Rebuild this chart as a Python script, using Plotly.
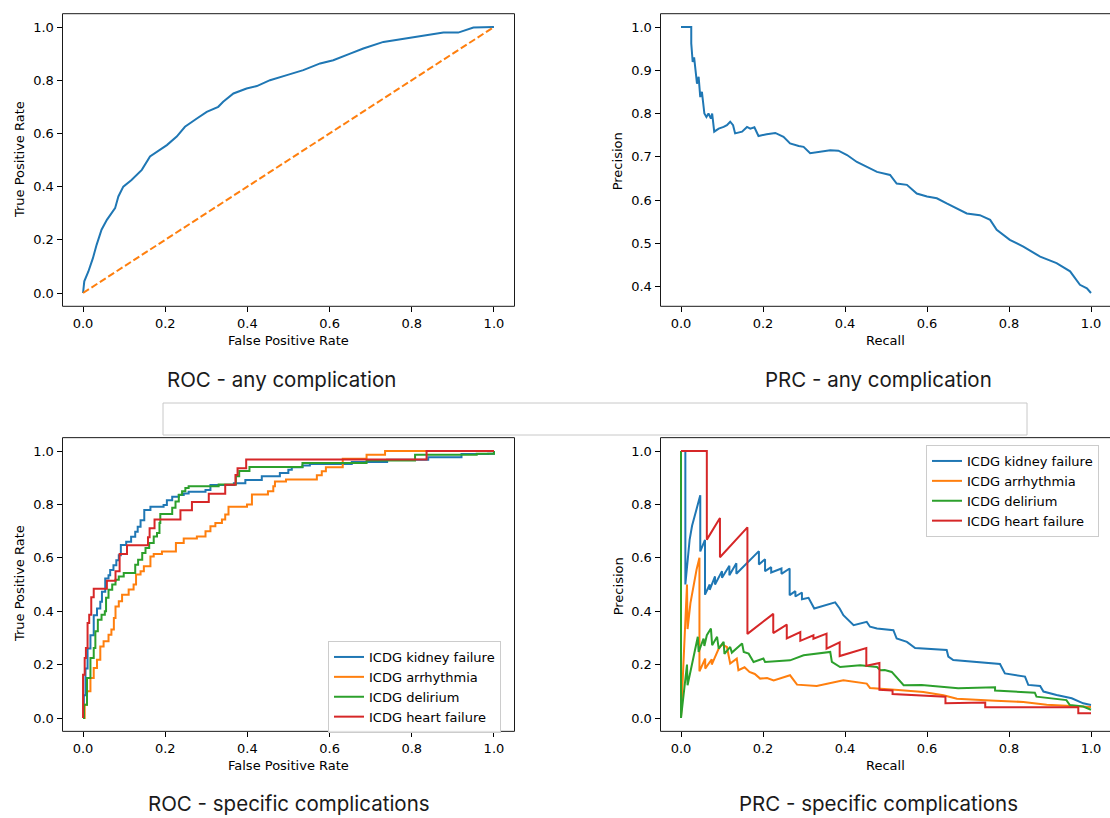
import plotly.graph_objects as go

W, H = 1110, 818

# ---------------- data ----------------
roc_any_fpr = [0, 0.003, 0.013, 0.024, 0.033, 0.045, 0.058, 0.078, 0.086, 0.098, 0.118, 0.143, 0.163, 0.187,
               0.204, 0.228, 0.248, 0.277, 0.301, 0.329, 0.341, 0.366, 0.398, 0.423, 0.455, 0.496, 0.536,
               0.577, 0.609, 0.650, 0.682, 0.731, 0.779, 0.836, 0.877, 0.913, 0.950, 1.0]
roc_any_tpr = [0, 0.044, 0.081, 0.131, 0.181, 0.238, 0.275, 0.319, 0.363, 0.40, 0.425, 0.463, 0.513, 0.538,
               0.556, 0.588, 0.625, 0.656, 0.681, 0.70, 0.719, 0.75, 0.769, 0.778, 0.80, 0.819, 0.838,
               0.863, 0.875, 0.90, 0.919, 0.944, 0.956, 0.969, 0.979, 0.979, 0.998, 1.0]
chance_x = [0, 1]
chance_y = [0, 1]

prc_any_recall = [0, 0.025, 0.025, 0.0285, 0.032, 0.035, 0.039, 0.043, 0.047, 0.051, 0.057, 0.062, 0.067,
                  0.073, 0.076, 0.081, 0.092, 0.104, 0.112, 0.120, 0.127, 0.132, 0.149, 0.161, 0.169, 0.179,
                  0.189, 0.209, 0.230, 0.250, 0.266, 0.287, 0.299, 0.315, 0.339, 0.364, 0.384, 0.405, 0.429,
                  0.453, 0.478, 0.510, 0.526, 0.551, 0.575, 0.600, 0.624, 0.648, 0.673, 0.697, 0.729, 0.754,
                  0.770, 0.802, 0.835, 0.876, 0.916, 0.949, 0.973, 0.990, 1.0]
prc_any_precision = [1.0, 1.0, 0.962, 0.919, 0.93, 0.90, 0.869, 0.885, 0.838, 0.85, 0.80, 0.792, 0.80,
                     0.788, 0.80, 0.758, 0.765, 0.769, 0.773, 0.781, 0.773, 0.754, 0.758, 0.769, 0.765, 0.768,
                     0.748, 0.752, 0.755, 0.746, 0.731, 0.725, 0.723, 0.708, 0.712, 0.715, 0.714, 0.704, 0.688,
                     0.677, 0.665, 0.658, 0.638, 0.635, 0.615, 0.608, 0.604, 0.592, 0.581, 0.569, 0.565, 0.554,
                     0.531, 0.508, 0.492, 0.469, 0.454, 0.435, 0.404, 0.396, 0.385]

complications = ["ICDG kidney failure", "ICDG arrhythmia", "ICDG delirium", "ICDG heart failure"]
colors = ["#1f77b4", "#ff7f0e", "#2ca02c", "#d62728"]

# ROC specific (staircase corner points)
roc_kidney_fpr = [0, 0.002, 0.006, 0.011, 0.018, 0.026, 0.034, 0.042, 0.046, 0.054, 0.062, 0.066, 0.074, 0.081,
                  0.087, 0.092, 0.105, 0.117, 0.127, 0.133, 0.14, 0.149, 0.164, 0.196, 0.204, 0.217, 0.233,
                  0.245, 0.257, 0.298, 0.31, 0.367, 0.395, 0.435, 0.479, 0.4996, 0.508, 0.534, 0.552, 0.654,
                  0.74, 0.84, 0.921, 0.986, 1.0]
roc_kidney_tpr = [0, 0.085, 0.185, 0.26, 0.31, 0.385, 0.41, 0.435, 0.4725, 0.5225, 0.535, 0.554, 0.5725, 0.591,
                  0.61, 0.6475, 0.66, 0.679, 0.6975, 0.716, 0.741, 0.779, 0.791, 0.7975, 0.816, 0.829, 0.835,
                  0.841, 0.8475, 0.854, 0.8725, 0.879, 0.891, 0.905, 0.9176, 0.93, 0.939, 0.946, 0.951, 0.959,
                  0.967, 0.977, 0.989, 0.99, 1.0]
roc_arrhythmia_fpr = [0, 0.004, 0.0097, 0.018, 0.026, 0.034, 0.042, 0.05, 0.062, 0.069, 0.075, 0.079, 0.087,
                      0.095, 0.111, 0.123, 0.129, 0.14, 0.148, 0.164, 0.172, 0.192, 0.226, 0.245, 0.277, 0.298,
                      0.31, 0.322, 0.338, 0.346, 0.354, 0.399, 0.411, 0.45, 0.463, 0.467, 0.494, 0.569, 0.581,
                      0.591, 0.632, 0.69, 0.735, 1.0]
roc_arrhythmia_tpr = [0, 0.05, 0.1, 0.15, 0.187, 0.218, 0.268, 0.287, 0.312, 0.331, 0.375, 0.418, 0.437,
                      0.462, 0.481, 0.50, 0.537, 0.55, 0.568, 0.605, 0.614, 0.624, 0.655, 0.672, 0.68, 0.699,
                      0.718, 0.73, 0.743, 0.762, 0.791, 0.8, 0.8375, 0.849, 0.868, 0.886, 0.893, 0.909, 0.924,
                      0.939, 0.971, 0.986, 1.0, 1.0]
roc_delirium_fpr = [0, 0.0024, 0.0097, 0.018, 0.026, 0.03, 0.036, 0.045, 0.053, 0.056, 0.062, 0.071, 0.079,
                    0.087, 0.099, 0.127, 0.134, 0.144, 0.152, 0.161, 0.172, 0.18, 0.186, 0.188, 0.217, 0.225,
                    0.233, 0.241, 0.249, 0.257, 0.33, 0.372, 0.38, 0.405, 0.534, 0.69, 0.808, 0.958, 1.0]
roc_delirium_tpr = [0, 0.05, 0.15, 0.225, 0.262, 0.325, 0.368, 0.387, 0.40, 0.45, 0.48, 0.50, 0.518,
                    0.53, 0.543, 0.574, 0.593, 0.618, 0.637, 0.655, 0.68, 0.693, 0.73, 0.764, 0.787, 0.811,
                    0.836, 0.849, 0.861, 0.868, 0.875, 0.905, 0.925, 0.94, 0.955, 0.964, 0.986, 0.99, 1.0]
roc_heart_fpr = [0, 0, 0.004, 0.007, 0.011, 0.015, 0.02, 0.026, 0.058, 0.079, 0.089, 0.107, 0.158, 0.162,
                 0.174, 0.237, 0.265, 0.306, 0.346, 0.371, 0.376, 0.397, 0.836, 1.0]
roc_heart_tpr = [0, 0.162, 0.225, 0.262, 0.356, 0.387, 0.452, 0.484, 0.514, 0.55, 0.614, 0.647, 0.677, 0.711,
                 0.743, 0.778, 0.809, 0.84, 0.874, 0.91, 0.935, 0.968, 1.0, 1.0]

# PRC specific
prc_kidney_recall = [0, 0.0106, 0.0106, 0.016, 0.021, 0.027, 0.032, 0.037, 0.042, 0.047, 0.047, 0.053, 0.0585,
                     0.0585, 0.07, 0.07, 0.083, 0.083, 0.1, 0.1, 0.118, 0.118, 0.135, 0.135, 0.19, 0.19, 0.205,
                     0.205, 0.22, 0.22, 0.245, 0.245, 0.265, 0.265, 0.279, 0.279, 0.295, 0.295, 0.311, 0.325,
                     0.376, 0.387, 0.396, 0.421, 0.453, 0.461, 0.478, 0.518, 0.526, 0.551, 0.571, 0.648, 0.652,
                     0.664, 0.778, 0.79, 0.839, 0.847, 0.876, 0.884, 0.916, 0.953, 0.981, 1.0]
prc_kidney_precision = [1.0, 1.0, 0.5, 0.6, 0.667, 0.72, 0.75, 0.78, 0.81, 0.834, 0.624, 0.65, 0.667,
                        0.462, 0.5, 0.48, 0.53, 0.50, 0.55, 0.525, 0.57, 0.535, 0.58, 0.54, 0.625, 0.575, 0.595,
                        0.55, 0.565, 0.545, 0.56, 0.54, 0.56, 0.46, 0.475, 0.455, 0.47, 0.445, 0.45, 0.41,
                        0.433, 0.41, 0.385, 0.3475, 0.36, 0.342, 0.335, 0.329, 0.2975, 0.285, 0.262, 0.255, 0.23,
                        0.217, 0.202, 0.167, 0.155, 0.124, 0.12, 0.099, 0.086, 0.074, 0.055, 0.049]
prc_arrhythmia_recall = [0, 0, 0.0146, 0.016, 0.023, 0.031, 0.038, 0.045, 0.045, 0.059, 0.059, 0.075, 0.075,
                         0.092, 0.1, 0.112, 0.12, 0.136, 0.14, 0.155, 0.167, 0.18, 0.193, 0.21, 0.226, 0.266,
                         0.283, 0.331, 0.396, 0.453, 0.461, 0.53, 0.591, 0.64, 0.673, 0.754, 0.835, 0.892, 1.0]
prc_arrhythmia_precision = [1.0, 0.0, 0.5, 0.333, 0.43, 0.5, 0.556, 0.6, 0.175, 0.2225, 0.185, 0.22, 0.2,
                            0.26, 0.275, 0.266, 0.204, 0.2225, 0.179, 0.19, 0.1725, 0.165, 0.1475, 0.15, 0.141,
                            0.16, 0.125, 0.12, 0.141, 0.129, 0.1125, 0.105, 0.0975, 0.085, 0.0725, 0.066, 0.06,
                            0.05, 0.041]
prc_delirium_recall = [0, 0, 0.0146, 0.016, 0.041, 0.043, 0.055, 0.057, 0.063, 0.073, 0.076, 0.088, 0.092,
                       0.104, 0.106, 0.12, 0.124, 0.149, 0.153, 0.165, 0.177, 0.201, 0.205, 0.266, 0.299, 0.364,
                       0.368, 0.388, 0.437, 0.478, 0.486, 0.497, 0.514, 0.526, 0.543, 0.587, 0.676, 0.766, 0.766,
                       0.863, 0.867, 0.94, 0.948, 0.981, 1.0]
prc_delirium_precision = [1.0, 0.0, 0.2, 0.1225, 0.304, 0.2475, 0.2975, 0.27, 0.31, 0.335, 0.2725, 0.304, 0.26,
                          0.285, 0.24, 0.266, 0.245, 0.279, 0.2475, 0.241, 0.21, 0.2225, 0.21, 0.216, 0.235,
                          0.2475, 0.21, 0.191, 0.1975, 0.191, 0.179, 0.18, 0.1725, 0.15, 0.1225, 0.124, 0.111,
                          0.115, 0.103, 0.095, 0.08, 0.067, 0.049, 0.043, 0.031]
prc_heart_recall = [0, 0.063, 0.063, 0.095, 0.095, 0.162, 0.162, 0.225, 0.225, 0.258, 0.258, 0.291, 0.291, 0.323,
                    0.323, 0.355, 0.355, 0.387, 0.387, 0.452, 0.452, 0.484, 0.484, 0.516, 0.516, 0.645, 0.645,
                    0.742, 0.742, 0.969, 0.969, 1.0]
prc_heart_precision = [1.0, 1.0, 0.668, 0.749, 0.602, 0.714, 0.315, 0.39, 0.318, 0.35, 0.298, 0.322, 0.289, 0.31,
                       0.297, 0.316, 0.26, 0.283, 0.232, 0.262, 0.196, 0.206, 0.106, 0.103, 0.09, 0.08, 0.055,
                       0.058, 0.04, 0.04, 0.018, 0.018]

unit_ticks = [0, 0.2, 0.4, 0.6, 0.8, 1.0]
unit_labels = ["0.0", "0.2", "0.4", "0.6", "0.8", "1.0"]
prec_ticks = [0.4, 0.5, 0.6, 0.7, 0.8, 0.9, 1.0]
prec_labels = ["0.4", "0.5", "0.6", "0.7", "0.8", "0.9", "1.0"]

panel_titles = ["ROC - any complication", "PRC - any complication",
                "ROC - specific complications", "PRC - specific complications"]

# ---------------- layout helpers ----------------
def px(x):
    return x / W

def py(y):
    return 1 - y / H

LW = 2
fig = go.Figure()

fig.add_trace(go.Scatter(x=roc_any_fpr, y=roc_any_tpr, mode="lines", line=dict(color=colors[0], width=LW),
                         xaxis="x", yaxis="y", showlegend=False))
fig.add_trace(go.Scatter(x=chance_x, y=chance_y, mode="lines",
                         line=dict(color=colors[1], width=LW, dash="7px,3px"),
                         xaxis="x", yaxis="y", showlegend=False))
fig.add_trace(go.Scatter(x=prc_any_recall, y=prc_any_precision, mode="lines",
                         line=dict(color=colors[0], width=LW), xaxis="x2", yaxis="y2", showlegend=False))

roc_sets = [(roc_kidney_fpr, roc_kidney_tpr), (roc_arrhythmia_fpr, roc_arrhythmia_tpr),
            (roc_delirium_fpr, roc_delirium_tpr), (roc_heart_fpr, roc_heart_tpr)]
prc_sets = [(prc_kidney_recall, prc_kidney_precision), (prc_arrhythmia_recall, prc_arrhythmia_precision),
            (prc_delirium_recall, prc_delirium_precision), (prc_heart_recall, prc_heart_precision)]

for i, (name, (fx, ty)) in enumerate(zip(complications, roc_sets)):
    fig.add_trace(go.Scatter(x=fx, y=ty, mode="lines", name=name, line=dict(color=colors[i], width=LW, shape="hv"),
                             xaxis="x3", yaxis="y3", legend="legend"))
for i, (name, (rx, pyv)) in enumerate(zip(complications, prc_sets)):
    fig.add_trace(go.Scatter(x=rx, y=pyv, mode="lines", name=name, line=dict(color=colors[i], width=LW),
                             xaxis="x4", yaxis="y4", legend="legend2"))

tickfont = dict(family="DejaVu Sans", size=13, color="black")
common = dict(showgrid=False, zeroline=False, showline=False, ticks="outside", ticklen=5, tickwidth=1,
              tickcolor="black", tickfont=tickfont, fixedrange=True)

# axes pixel boxes
L_x0, L_x1 = 62.5, 514.5
R_x0, R_x1 = 660.5, 1111.5
T_y0, T_y1 = 13.7, 306.3
B_y0, B_y1 = 437.65, 731.35

legfont = dict(family="DejaVu Sans", size=13, color="black")
fig.update_layout(
    width=W, height=H, margin=dict(l=0, r=0, t=0, b=0),
    paper_bgcolor="white", plot_bgcolor="white",
    xaxis=dict(domain=[px(L_x0), px(L_x1)], range=[-0.05, 1.05], tickvals=unit_ticks, ticktext=unit_labels,
               anchor="y", **common),
    yaxis=dict(domain=[py(T_y1), py(T_y0)], range=[-0.05, 1.05], tickvals=unit_ticks, ticktext=unit_labels,
               anchor="x", **common),
    xaxis2=dict(domain=[px(R_x0), 1.0], range=[-0.05, -0.05 + (W - R_x0) / 410.0], tickvals=unit_ticks,
                ticktext=unit_labels, anchor="y2", **common),
    yaxis2=dict(domain=[py(T_y1), py(T_y0)], range=[0.35425, 1.03075], tickvals=prec_ticks, ticktext=prec_labels,
                anchor="x2", **common),
    xaxis3=dict(domain=[px(L_x0), px(L_x1)], range=[-0.05, 1.05], tickvals=unit_ticks, ticktext=unit_labels,
                anchor="y3", **common),
    yaxis3=dict(domain=[py(B_y1), py(B_y0)], range=[-0.05, 1.05], tickvals=unit_ticks, ticktext=unit_labels,
                anchor="x3", **common),
    xaxis4=dict(domain=[px(R_x0), 1.0], range=[-0.05, -0.05 + (W - R_x0) / 410.0], tickvals=unit_ticks,
                ticktext=unit_labels, anchor="y4", **common),
    yaxis4=dict(domain=[py(B_y1), py(B_y0)], range=[-0.05, 1.05], tickvals=unit_ticks, ticktext=unit_labels,
                anchor="x4", **common),
    legend=dict(x=px(328), y=py(641), xanchor="left", yanchor="top", bgcolor="rgba(255,255,255,0.85)",
                bordercolor="#cccccc", borderwidth=1, font=legfont, tracegroupgap=0),
    legend2=dict(x=px(926), y=py(445), xanchor="left", yanchor="top", bgcolor="rgba(255,255,255,0.85)",
                 bordercolor="#cccccc", borderwidth=1, font=legfont, tracegroupgap=0),
)

shapes = []
# gray empty box between rows
shapes.append(dict(type="rect", xref="paper", yref="paper", x0=px(163), x1=px(1027), y0=py(435), y1=py(403),
                   line=dict(color="#c8c8c8", width=1), fillcolor="white", layer="below"))
for (x0, x1, y0, y1) in [(L_x0, L_x1, T_y0, T_y1), (R_x0, R_x1, T_y0, T_y1),
                         (L_x0, L_x1, B_y0, B_y1), (R_x0, R_x1, B_y0, B_y1)]:
    shapes.append(dict(type="rect", xref="paper", yref="paper", x0=px(x0), x1=px(x1), y0=py(y1), y1=py(y0),
                       line=dict(color="#1a1a1a", width=1), fillcolor="rgba(0,0,0,0)", layer="above"))
fig.update_layout(shapes=shapes)

ann = []
labfont = dict(family="DejaVu Sans", size=13, color="black")
for (cx, cy, text) in [(288.7, 340, "False Positive Rate"), (885.8, 340, "Recall"),
                       (288.7, 765, "False Positive Rate"), (885.8, 765, "Recall")]:
    ann.append(dict(x=px(cx), y=py(cy), xref="paper", yref="paper", text=text, showarrow=False,
                    xanchor="center", yanchor="middle", font=labfont))
for (cx, cy, text) in [(19, 160, "True Positive Rate"), (618.3, 161, "Precision"),
                       (19, 584, "True Positive Rate"), (618.3, 586, "Precision")]:
    ann.append(dict(x=px(cx), y=py(cy), xref="paper", yref="paper", text=text, showarrow=False, textangle=-90,
                    xanchor="center", yanchor="middle", font=labfont))
titlefont = dict(family="Inter", size=20.5, color="#1a1a1a")
for (cx, cy), text in zip([(281, 379), (878, 379), (289, 803), (878, 803)], panel_titles):
    ann.append(dict(x=px(cx), y=py(cy), xref="paper", yref="paper", text=text, showarrow=False,
                    xanchor="center", yanchor="middle", font=titlefont))
fig.update_layout(annotations=ann)

fig.write_html("out.html")
